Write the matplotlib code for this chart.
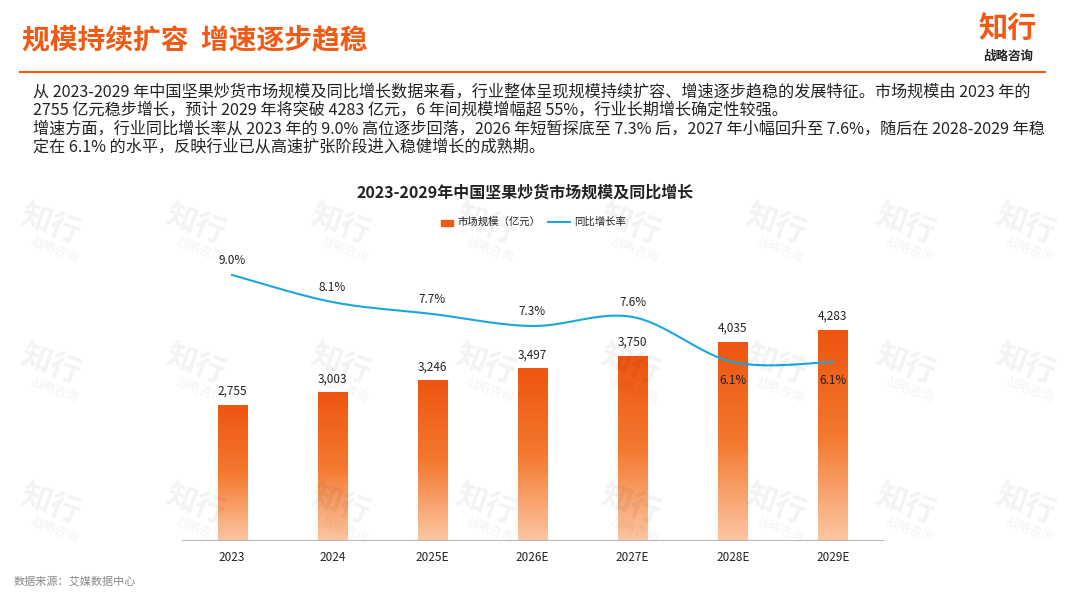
import matplotlib
matplotlib.use("Agg")
import matplotlib.pyplot as plt
import numpy as np
from matplotlib.colors import LinearSegmentedColormap

plt.rcParams["font.family"] = ["Noto Sans CJK SC", "DejaVu Sans"]

years = ["2023", "2024", "2025E", "2026E", "2027E", "2028E", "2029E"]
market_size = [2755, 3003, 3246, 3497, 3750, 4035, 4283]
growth_rate = [9.0, 8.1, 7.7, 7.3, 7.6, 6.1, 6.1]

W, H = 1067, 600
fig = plt.figure(figsize=(W / 100, H / 100), dpi=100)
ORANGE = "#F05A14"


def fx(px):
    return px / W


def fy(py):
    return 1 - py / H


# watermarks
for wy in [225, 365, 505]:
    for wx in [50, 195, 340, 485, 630, 775, 905, 1025]:
        fig.text(fx(wx), fy(wy), "知行", fontsize=22, fontweight="bold", color="#000000",
                 alpha=0.05, rotation=-20, ha="center", va="center")
        fig.text(fx(wx + 5), fy(wy + 25), "战略咨询", fontsize=9, color="#000000",
                 alpha=0.05, rotation=-20, ha="center", va="center")

# header
fig.text(fx(22), fy(40), "规模持续扩容  增速逐步趋稳", fontsize=20, fontweight="bold",
         color=ORANGE, va="center")
fig.add_artist(plt.Line2D([fx(20), fx(1045)], [fy(72), fy(72)], color=ORANGE, lw=1.5))
fig.text(fx(1008), fy(28), "知行", fontsize=21, fontweight="bold", color=ORANGE,
         ha="center", va="center")
fig.text(fx(1008), fy(56), "战略咨询", fontsize=9, fontweight="bold", color="#222222",
         ha="center", va="center")

para = ("从 2023-2029 年中国坚果炒货市场规模及同比增长数据来看，行业整体呈现规模持续扩容、增速逐步趋稳的发展特征。市场规模由 2023 年的\n"
        "2755 亿元稳步增长，预计 2029 年将突破 4283 亿元，6 年间规模增幅超 55%，行业长期增长确定性较强。\n"
        "增速方面，行业同比增长率从 2023 年的 9.0% 高位逐步回落，2026 年短暂探底至 7.3% 后，2027 年小幅回升至 7.6%，随后在 2028-2029 年稳\n"
        "定在 6.1% 的水平，反映行业已从高速扩张阶段进入稳健增长的成熟期。")
fig.text(fx(33), fy(83), para, fontsize=11.6, color="#222222", va="top", linespacing=1.12)

fig.text(fx(525), fy(193), "2023-2029年中国坚果炒货市场规模及同比增长", fontsize=11.5,
         fontweight="bold", color="#222222", ha="center", va="center")

# axes
ax = fig.add_axes([fx(182), fy(540), fx(883 - 182), (540 - 250) / H])
x = np.arange(len(years))
ax.set_xlim(-0.5, len(years) - 0.5)
ax.set_ylim(0, 290 / 0.049)
cmap = LinearSegmentedColormap.from_list("o", ["#FCC6A2", "#F4782E", "#EE5510"])
grad = np.linspace(0, 1, 256).reshape(-1, 1)
bw = 0.29
for i, v in enumerate(market_size):
    ax.imshow(grad, cmap=cmap, extent=[i - bw / 2, i + bw / 2, 0, v], origin="lower",
              aspect="auto", zorder=2)
    ax.text(i, v + 150, f"{v:,}", ha="center", va="bottom", fontsize=8.5, color="#222222")
ax.set_aspect("auto")
for s in ["top", "right", "left"]:
    ax.spines[s].set_visible(False)
ax.spines["bottom"].set_color("#BBBBBB")
ax.set_yticks([])
ax.set_xticks(x)
ax.set_xticklabels(years, fontsize=8.5, color="#222222")
ax.tick_params(axis="x", length=0, pad=8)

ax2 = ax.twinx()
ax2.set_ylim(9 - 265 / 30, 9 + 25 / 30)
ax2.set_axis_off()
# smooth curve (Catmull-Rom through the data points)
pts = np.column_stack([x, growth_rate]).astype(float)
ext = np.vstack([pts[0], pts, pts[-1]])
cx, cy = [], []
for k in range(1, len(ext) - 2):
    p0, p1, p2, p3 = ext[k - 1], ext[k], ext[k + 1], ext[k + 2]
    t = np.linspace(0, 1, 30)[:, None]
    c = 0.5 * (2 * p1 + (-p0 + p2) * t + (2 * p0 - 5 * p1 + 4 * p2 - p3) * t ** 2
               + (-p0 + 3 * p1 - 3 * p2 + p3) * t ** 3)
    cx.extend(c[:, 0]); cy.extend(c[:, 1])
ax2.plot(cx, cy, color="#1BA6E0", lw=1.5, zorder=3)
for i, g in enumerate(growth_rate):
    if i >= 5:
        ax2.text(i, g - 0.6, f"{g:.1f}%", ha="center", va="center", fontsize=8.5, color="#222222")
    else:
        ax2.text(i, g + 0.5, f"{g:.1f}%", ha="center", va="center", fontsize=8.5, color="#222222")

# legend
fig.add_artist(plt.Rectangle((fx(441), fy(226)), fx(12), 6 / H, color=ORANGE))
fig.text(fx(457), fy(222), "市场规模（亿元）", fontsize=7.5, color="#222222", va="center")
fig.add_artist(plt.Line2D([fx(548), fx(570)], [fy(222), fy(222)], color="#1BA6E0", lw=1.5))
fig.text(fx(574), fy(222), "同比增长率", fontsize=7.5, color="#222222", va="center")

fig.text(fx(14), fy(581), "数据来源：艾媒数据中心", fontsize=8, color="#888888", va="center")

fig.savefig("out.png", dpi=100)
